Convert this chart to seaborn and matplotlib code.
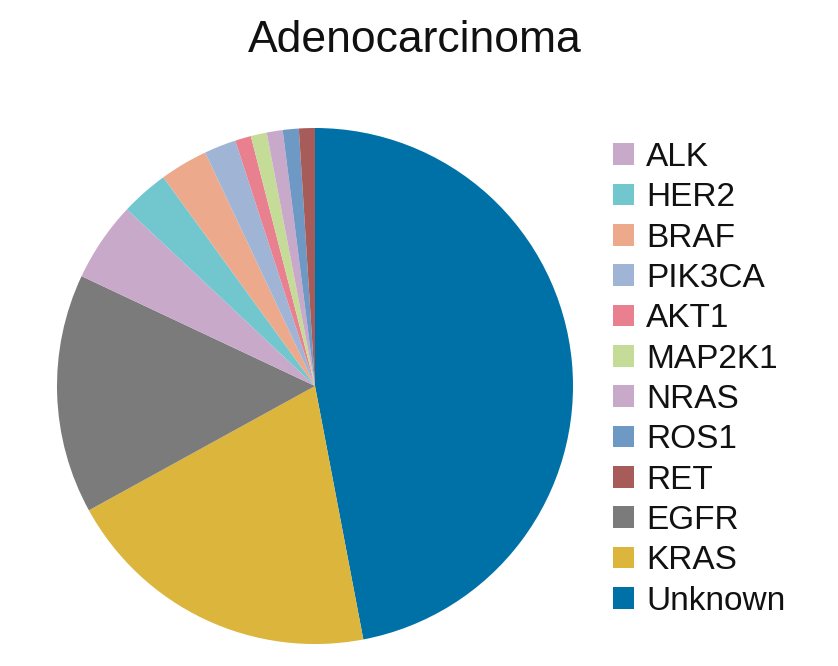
import matplotlib
matplotlib.use("Agg")
import matplotlib.pyplot as plt
import matplotlib.patches as mpatches
import seaborn as sns
from matplotlib import font_manager

# Data (clockwise from 12 o'clock)
pie_labels = ["Unknown", "KRAS", "EGFR", "ALK", "HER2", "BRAF", "PIK3CA",
              "AKT1", "MAP2K1", "NRAS", "ROS1", "RET"]
pie_values = [47, 20, 15, 5, 3, 3, 2, 1, 1, 1, 1, 1]
pie_colors = ["#0071A7", "#DBB53C", "#7B7B7B", "#C9A9C9", "#72C7CF", "#EDA98B",
              "#A0B5D5", "#E8808F", "#C5DC98", "#C9A9C9", "#6F99C5", "#A85C5A"]
legend_order = ["ALK", "HER2", "BRAF", "PIK3CA", "AKT1", "MAP2K1", "NRAS",
                "ROS1", "RET", "EGFR", "KRAS", "Unknown"]
title = "Adenocarcinoma"

sns.set_theme(style="white")
names = {f.name for f in font_manager.fontManager.ttflist}
legend_font = "Liberation Sans" if "Liberation Sans" in names else "DejaVu Sans"
title_font = "Liberation Sans Narrow" if "Liberation Sans Narrow" in names else legend_font
plt.rcParams["font.family"] = [legend_font, "DejaVu Sans"]

fig = plt.figure(figsize=(8.38, 6.66), dpi=100)
ax = fig.add_axes([0.068, 0.033, 0.6158, 0.7748])
palette = sns.color_palette(pie_colors)
ax.pie(pie_values, colors=palette, startangle=90, counterclock=False,
       radius=1.0, wedgeprops=dict(linewidth=0))
ax.set_xlim(-1, 1)
ax.set_ylim(-1, 1)
ax.set_aspect("equal")
ax.axis("off")

fig.text(0.495, 0.939, title, ha="center", va="center", fontsize=32,
         family=[title_font, "DejaVu Sans"], color="#111111")

cmap = dict(zip(pie_labels, pie_colors))
handles = [mpatches.Patch(facecolor=cmap[n], edgecolor="none", label=n) for n in legend_order]
fig.legend(handles=handles, loc="upper left", bbox_to_anchor=(0.732, 0.787),
           frameon=False, fontsize=24, handlelength=0.63, handleheight=0.63,
           handletextpad=0.36, labelspacing=0.28, borderaxespad=0, borderpad=0,
           labelcolor="#111111")

fig.savefig("out.png", dpi=100)
